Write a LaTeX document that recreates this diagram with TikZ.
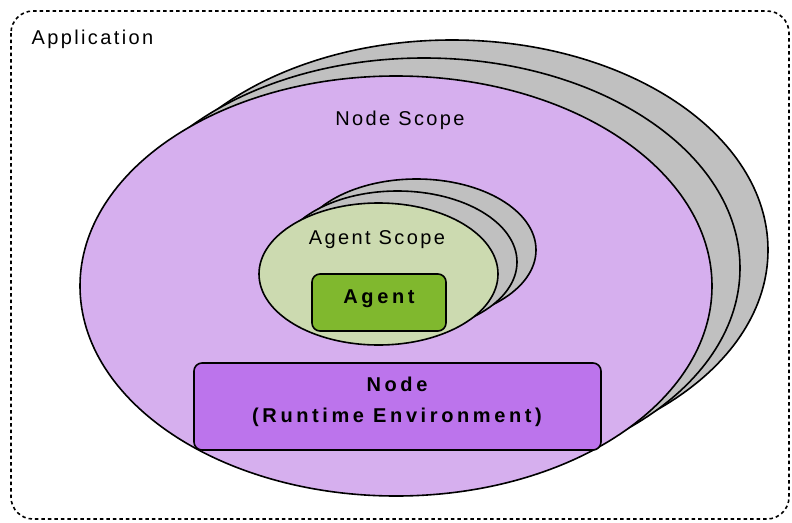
\documentclass[tikz,border=0pt]{standalone}
\usepackage{fontspec}
\setmainfont{Liberation Sans}
\usetikzlibrary{shapes.geometric}

\definecolor{scopegray}{HTML}{C0C0C0}
\definecolor{nodescope}{HTML}{D6AFEE}
\definecolor{agentscope}{HTML}{CCDAB0}
\definecolor{agentfill}{HTML}{80B82E}
\definecolor{nodefill}{HTML}{BC74EC}

\tikzset{
	scope shape/.style={draw,ellipse,line width=1.6pt,inner sep=0pt},
	boxshape/.style={draw,rounded corners=8pt,line width=1.6pt,inner sep=0pt},
	plaintext/.style={font=\fontsize{20}{24}\selectfont\addfontfeatures{LetterSpace=12}},
	boldtext/.style={font=\fontsize{20}{24}\selectfont\bfseries\addfontfeatures{LetterSpace=18}},
}

\begin{document}
\begin{tikzpicture}[x=1pt,y=-1pt]
		\useasboundingbox (0,0) rectangle (792,522);
		\draw [line width=1.6pt,dash pattern=on 3.5pt off 3pt,rounded corners=22pt] (11,11) rectangle (789,519);
		\node [plaintext,anchor=base west]                                   (app)      at (28,44)  {Application};
		
		\node [scope shape,fill=scopegray,minimum width=632,minimum height=420] (ns3)      at (452,250) {};
		\node [scope shape,fill=scopegray,minimum width=632,minimum height=420] (ns2)      at (424,268) {};
		\node [scope shape,fill=nodescope,minimum width=632,minimum height=420] (ns1)      at (396,286) {};
		\node [plaintext,anchor=base]                                          (nslabel)  at (400,125) {Node Scope};
		
		\node [scope shape,fill=scopegray,minimum width=239,minimum height=142] (as3)      at (416.5,250) {};
		\node [scope shape,fill=scopegray,minimum width=239,minimum height=142] (as2)      at (397.5,262) {};
		\node [scope shape,fill=agentscope,minimum width=239,minimum height=142](as1)      at (378.5,274) {};
		\node [plaintext,anchor=base]                                          (aslabel)  at (377,244) {Agent Scope};
		
		\node [boxshape,fill=agentfill,minimum width=134,minimum height=57]     (agent)    at (379,302.5) {};
		\node [boldtext,anchor=base]                                           (agentlbl) at (379,303) {Agent};
		
		\node [boxshape,fill=nodefill,minimum width=407,minimum height=87]      (runtime)  at (397.5,406.5) {};
		\node [boldtext,anchor=base]                                           (nodelbl)  at (397,391) {Node};
		\node [boldtext,anchor=base]                                           (rtlbl)    at (397,422) {(Runtime Environment)};
	\end{tikzpicture}
\end{document}
